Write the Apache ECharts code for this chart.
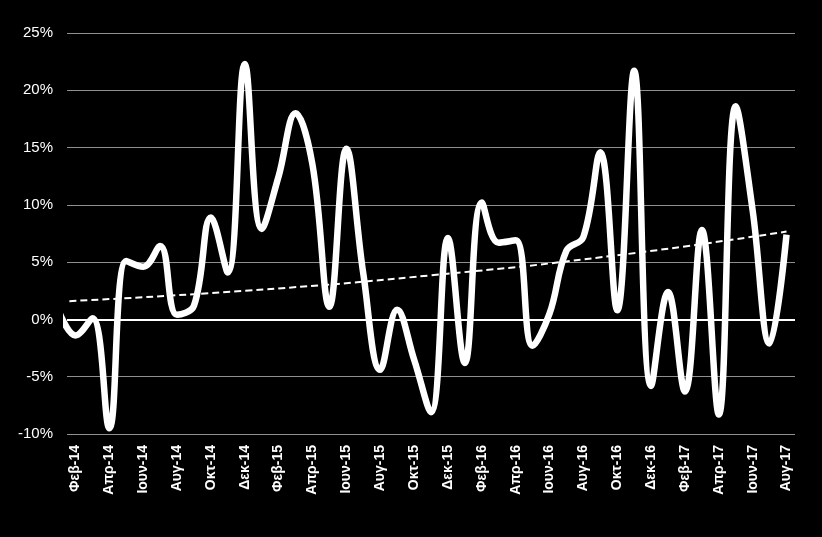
<!DOCTYPE html>
<html>
<head>
<meta charset="utf-8">
<script src="https://cdn.jsdelivr.net/npm/echarts@6/dist/echarts.min.js"></script>
<style>
  html, body { margin: 0; padding: 0; background: #000; }
  #chart { width: 822px; height: 537px; }
</style>
</head>
<body>
<div id="chart"></div>
<script>
// monthly labels, Jan-14 .. Aug-17 (Jan-14 sits just outside the plot, as in the original)
var months = [
  'Ιαν-14', 'Φεβ-14', 'Μαρ-14', 'Απρ-14', 'Μαϊ-14', 'Ιουν-14', 'Ιουλ-14', 'Αυγ-14', 'Σεπ-14', 'Οκτ-14', 'Νοε-14', 'Δεκ-14',
  'Ιαν-15', 'Φεβ-15', 'Μαρ-15', 'Απρ-15', 'Μαϊ-15', 'Ιουν-15', 'Ιουλ-15', 'Αυγ-15', 'Σεπ-15', 'Οκτ-15', 'Νοε-15', 'Δεκ-15',
  'Ιαν-16', 'Φεβ-16', 'Μαρ-16', 'Απρ-16', 'Μαϊ-16', 'Ιουν-16', 'Ιουλ-16', 'Αυγ-16', 'Σεπ-16', 'Οκτ-16', 'Νοε-16', 'Δεκ-16',
  'Ιαν-17', 'Φεβ-17', 'Μαρ-17', 'Απρ-17', 'Μαϊ-17', 'Ιουν-17', 'Ιουλ-17', 'Αυγ-17'
];
// % change
var values = [
  0.8, -1.4, 0.1, -9.5, 5.1, 4.6, 6.4, 0.4, 1.2, 8.9, 4.1, 22.3,
  7.9, 12.5, 18.0, 13.5, 1.1, 14.9, 4.0, -4.4, 0.85, -3.5, -8.1, 7.1,
  -3.8, 10.2, 6.7, 6.9, -2.3, 0.5, 6.0, 7.2, 14.6, 0.8, 21.7, -5.8,
  2.4, -6.3, 7.8, -8.3, 18.6, 9.5, -2.1, 7.4
];
var trendMonths = [0, 11, 22, 33, 43];
var trendValues = [1.55, 2.5, 3.85, 5.6, 7.67];
// label every second month, starting from Φεβ-14
var labelIdx = [];
for (var i = 1; i < months.length; i += 2) labelIdx.push(i);

var lineData = values.map(function (v, i) { return [i, v]; });
var trendData = trendMonths.map(function (m, i) { return [m, trendValues[i]]; });

var myChart = echarts.init(document.getElementById('chart'));
var option = {
  backgroundColor: '#000',
  animation: false,
  grid: { left: 67, right: 27, top: 33, bottom: 103 },
  xAxis: {
    type: 'value',
    min: 0.5,
    max: months.length - 0.5,
    axisLine: { show: false },
    axisTick: { show: false },
    splitLine: { show: false },
    axisLabel: {
      customValues: labelIdx,
      rotate: 90,
      margin: 11,
      color: '#fff',
      fontFamily: 'Liberation Sans',
      fontWeight: 'bold',
      fontSize: 14,
      formatter: function (v) { return months[Math.round(v)]; }
    }
  },
  yAxis: {
    type: 'value',
    min: -10,
    max: 25,
    interval: 5,
    axisLine: { show: false },
    axisTick: { show: false },
    splitLine: { lineStyle: { color: '#8f8f8f', width: 1 } },
    axisLabel: {
      color: '#fff',
      fontFamily: 'Liberation Sans',
      fontSize: 15,
      margin: 14,
      formatter: '{value}%'
    }
  },
  series: [{
    type: 'line',
    data: lineData,
    smooth: 0.4,
    symbol: 'none',
    clip: true,
    lineStyle: { color: '#fff', width: 6.5 },
    markLine: {
      silent: true,
      symbol: 'none',
      label: { show: false },
      lineStyle: { color: '#fff', width: 2, type: 'solid' },
      data: [{ yAxis: 0 }]
    },
    z: 3
  }, {
    type: 'line',
    data: trendData,
    smooth: true,
    symbol: 'none',
    clip: true,
    lineStyle: { color: '#fff', width: 2, type: [7, 4] },
    z: 2
  }]
};
myChart.setOption(option);
</script>
</body>
</html>
